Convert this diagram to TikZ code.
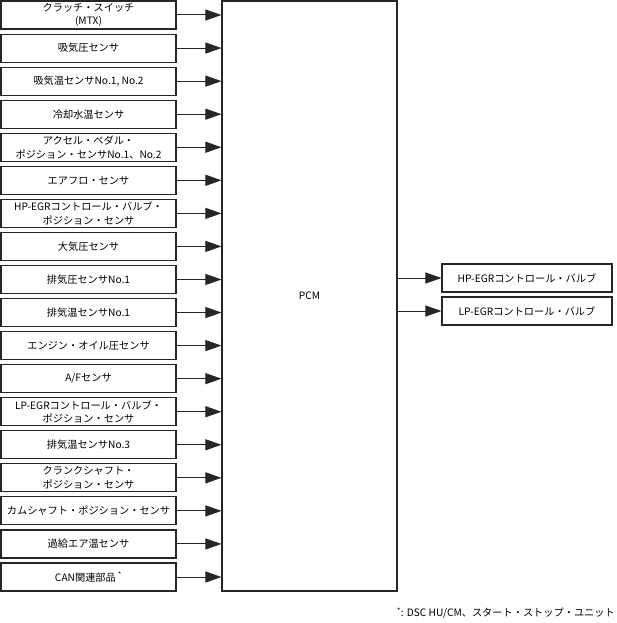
\documentclass[tikz,border=0pt]{standalone}
\usepackage{fontspec}
\setmainfont{Noto Sans CJK JP}
\usetikzlibrary{arrows.meta}
\begin{document}
\begin{tikzpicture}[x=1pt,y=-1pt,
  box/.style={draw=black!85, line width=1.1pt, fill=white, minimum width=175pt, minimum height=28pt, inner sep=0pt, align=center, font=\fontsize{10.2}{13.5}\selectfont},
  rbox/.style={box, minimum width=170pt},
  conn/.style={draw=black!85, line width=1pt, -{Triangle[length=16pt,width=11pt]}}]
\useasboundingbox (0,0) rectangle (617,623);
\node[draw=black!85, line width=1.1pt, minimum width=175pt, minimum height=590pt, inner sep=0pt, font=\fontsize{10.2}{13.5}\selectfont] (pcm) at (309.5,296) {PCM};
\def\cy#1{15+33.06*(#1-1)}
\node[box] (s1) at (88.5,{\cy{1}}) {クラッチ・スイッチ\\(MTX)};
\node[box] (s2) at (88.5,{\cy{2}}) {吸気圧センサ};
\node[box] (s3) at (88.5,{\cy{3}}) {吸気温センサNo.1, No.2};
\node[box] (s4) at (88.5,{\cy{4}}) {冷却水温センサ};
\node[box] (s5) at (88.5,{\cy{5}}) {アクセル・ペダル・\\ポジション・センサNo.1、No.2};
\node[box] (s6) at (88.5,{\cy{6}}) {エアフロ・センサ};
\node[box] (s7) at (88.5,{\cy{7}}) {HP-EGRコントロール・バルブ・\\ポジション・センサ};
\node[box] (s8) at (88.5,{\cy{8}}) {大気圧センサ};
\node[box] (s9) at (88.5,{\cy{9}}) {排気圧センサNo.1};
\node[box] (s10) at (88.5,{\cy{10}}) {排気温センサNo.1};
\node[box] (s11) at (88.5,{\cy{11}}) {エンジン・オイル圧センサ};
\node[box] (s12) at (88.5,{\cy{12}}) {A/Fセンサ};
\node[box] (s13) at (88.5,{\cy{13}}) {LP-EGRコントロール・バルブ・\\ポジション・センサ};
\node[box] (s14) at (88.5,{\cy{14}}) {排気温センサNo.3};
\node[box] (s15) at (88.5,{\cy{15}}) {クランクシャフト・\\ポジション・センサ};
\node[box] (s16) at (88.5,{\cy{16}}) {カムシャフト・ポジション・センサ};
\node[box] (s17) at (88.5,{\cy{17}}) {過給エア温センサ};
\node[box] (s18) at (88.5,{\cy{18}}) {CAN関連部品 \textsuperscript{*}};
\foreach \i in {1,...,18} {
  \draw[conn] (s\i.east) -- (s\i.east -| pcm.west);
}
\node[rbox] (a1) at (527,278) {HP-EGRコントロール・バルブ};
\node[rbox] (a2) at (527,311) {LP-EGRコントロール・バルブ};
\draw[conn] (a1.west -| pcm.east) -- (a1.west);
\draw[conn] (a2.west -| pcm.east) -- (a2.west);
\node[anchor=east, inner sep=0pt, font=\fontsize{10.2}{13.5}\selectfont] (fn) at (615,613) {\textsuperscript{*}: DSC HU/CM、スタート・ストップ・ユニット};
\end{tikzpicture}
\end{document}
